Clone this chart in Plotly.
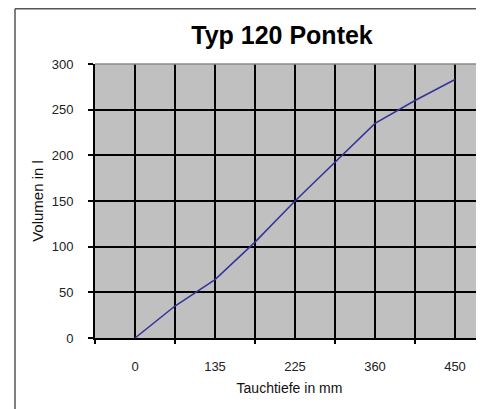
import plotly.graph_objects as go

# Data (Excel-style category chart, labels shown on every 2nd category)
depth_labels = ["0", "", "135", "", "225", "", "360", "", "450"]
volume = [0, 35, 64, 105, 150, 193, 235, 260, 283]
y_ticks = [0, 50, 100, 150, 200, 250, 300]

positions = list(range(1, len(volume) + 1))
label_pos = positions[::2]
label_txt = depth_labels[::2]
tick_pos = [p - 1 for p in positions[::2]]

FONT = "Liberation Sans, Arial, sans-serif"
# page body has an 8px margin; figure sized so it fills the window
W, H = 476, 401
L, R, T, B = 87, 0, 56, 71
PW, PH = W - L - R, H - T - B

fig = go.Figure()
fig.add_trace(go.Scatter(
    x=positions, y=volume, mode="lines",
    line=dict(color="#333399", width=1.5),
    showlegend=False, hoverinfo="skip",
))
# invisible trace on overlay axes (bottom tick marks, inner gridlines)
fig.add_trace(go.Scatter(
    x=[tick_pos[0]], y=[0], xaxis="x2", yaxis="y2", mode="markers",
    marker=dict(opacity=0), showlegend=False, hoverinfo="skip",
))

xr = [0, PW / 40.0]
yr = [0, 300]

frame_x = (7 - L) / PW
frame_y = (H - B - 0.75) / PH

fig.update_layout(
    width=W, height=H,
    margin=dict(l=L, r=R, t=T, b=B),
    paper_bgcolor="white",
    plot_bgcolor="#c0c0c0",
    font=dict(family=FONT, color="#000000"),
    title=dict(text="<b>Typ 120 Pontek</b>", x=274 / W, xanchor="center",
               y=1 - 27 / H, yanchor="middle",
               font=dict(size=25, family=FONT, color="#000000")),
    xaxis=dict(
        range=xr, tickmode="array", tickvals=label_pos, ticktext=label_txt,
        ticks="", showgrid=True, gridcolor="#000000", gridwidth=2,
        minor=dict(dtick=1, tick0=0, showgrid=True, gridcolor="#000000", gridwidth=2),
        showline=True, linecolor="#000000", linewidth=2,
        zeroline=False, ticklabelstandoff=15,
        tickfont=dict(size=13, color="#222222", family=FONT),
        title=dict(text="Tauchtiefe in mm", standoff=11,
                   font=dict(size=14, color="#111111", family=FONT)),
        fixedrange=True,
    ),
    xaxis2=dict(
        overlaying="x", side="bottom", range=xr, tickmode="array",
        tickvals=tick_pos, ticks="outside", ticklen=5, tickwidth=2,
        tickcolor="#000000", showticklabels=False, showgrid=False,
        zeroline=False, showline=False, fixedrange=True,
    ),
    yaxis=dict(
        range=yr, tickmode="array", tickvals=y_ticks,
        ticks="outside", ticklen=5, tickwidth=2, tickcolor="#000000",
        showgrid=False,
        showline=True, linecolor="#000000", linewidth=2,
        zeroline=False, ticklabelstandoff=12,
        tickfont=dict(size=13, color="#222222", family=FONT),
        title=dict(text="Volumen in l", standoff=4,
                   font=dict(size=15, color="#111111", family=FONT)),
        fixedrange=True,
    ),
    yaxis2=dict(
        overlaying="y", side="left", range=yr, tickmode="array",
        tickvals=y_ticks[1:-1], ticks="", showticklabels=False,
        showgrid=True, gridcolor="#000000", gridwidth=2,
        zeroline=False, showline=False, fixedrange=True,
    ),
    shapes=[
        # chart frame: left and top edges (the rest lies outside the window)
        dict(type="line", xref="paper", yref="paper",
             x0=frame_x, x1=frame_x, y0=-0.5, y1=frame_y,
             line=dict(color="#555555", width=1.5), layer="below"),
        dict(type="line", xref="paper", yref="paper",
             x0=frame_x, x1=1.3, y0=frame_y, y1=frame_y,
             line=dict(color="#555555", width=1.5), layer="below"),
        # light edge on top of the plot area
        dict(type="line", xref="paper", yref="paper",
             x0=0, x1=1, y0=1, y1=1,
             line=dict(color="#8a8a8a", width=1.5), layer="above"),
    ],
)

fig.write_html("out.html", post_script="document.body.style.overflow='hidden';")
